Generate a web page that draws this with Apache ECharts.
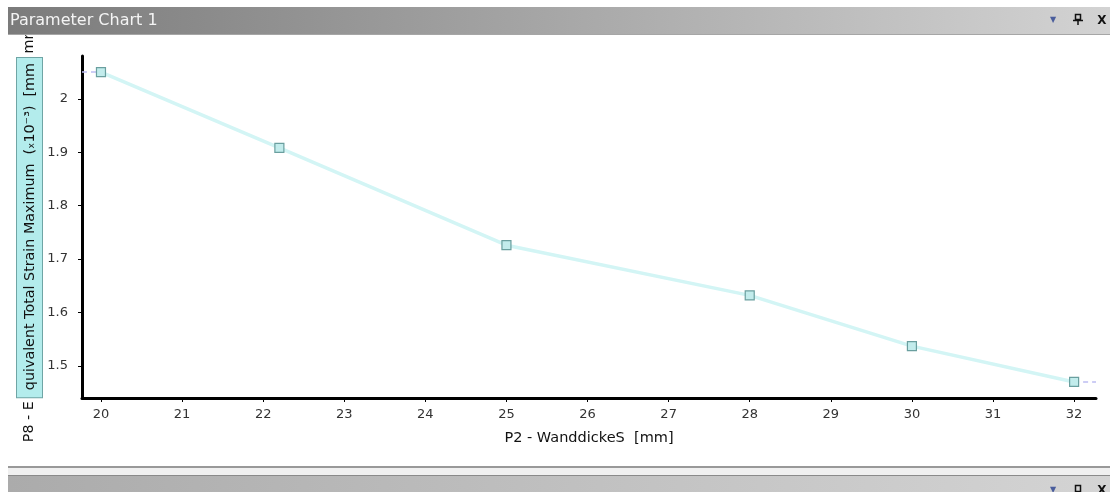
<!DOCTYPE html>
<html>
<head>
<meta charset="utf-8">
<style>
  html, body { margin: 0; padding: 0; background: #ffffff; }
  #chart { width: 1110px; height: 492px; }
</style>
<script src="https://cdn.jsdelivr.net/npm/echarts@6/dist/echarts.min.js"></script>
</head>
<body>
<div id="chart"></div>
<script>
// Wall thickness (input parameter P2) and resulting maximum equivalent total strain (P8, x10^-3)
const thickness = [20, 22.2, 25, 28, 30, 32];
const strain = [2.05, 1.908, 1.726, 1.632, 1.537, 1.470];

// Tick values shown on each axis
const xTicks = [20, 21, 22, 23, 24, 25, 26, 27, 28, 29, 30, 31, 32];
const yTicks = [1.5, 1.6, 1.7, 1.8, 1.9, 2];

// Axis extents
const xRange = [19.766, 32.27];
const yRange = [1.44, 2.08];

const FONT = 'DejaVu Sans';

// Short dashed lead-in / lead-out from the axis edges to the first and last points
const edgeDash = [
  [xRange[0], strain[0]], [thickness[0], strain[0]], '-',
  [thickness[thickness.length - 1], strain[strain.length - 1]], [xRange[1], strain[strain.length - 1]]
];

const chart = echarts.init(document.getElementById('chart'), null, { renderer: 'canvas' });

chart.setOption({
  animation: false,
  backgroundColor: '#ffffff',
  grid: { left: 82, right: 14, top: 56, bottom: 94, containLabel: false, outerBoundsMode: 'none' },
  xAxis: {
    type: 'value',
    min: xRange[0],
    max: xRange[1],
    name: 'P2 - WanddickeS  [mm]',
    nameLocation: 'middle',
    nameGap: 33,
    nameTextStyle: { fontFamily: FONT, fontSize: 14.5, color: '#111' },
    axisLine: { show: true, onZero: false, lineStyle: { color: '#000', width: 3 } },
    axisTick: { show: true, customValues: xTicks, length: 4, lineStyle: { color: '#000', width: 1 } },
    axisLabel: { customValues: xTicks, margin: 10, fontFamily: FONT, fontSize: 13, color: '#333' },
    splitLine: { show: false }
  },
  yAxis: {
    type: 'value',
    min: yRange[0],
    max: yRange[1],
    // part of the axis title sits in a highlighted box
    name: '{p0|P8 - E}{hl|quivalent Total Strain Maximum  (ₓ10⁻³)  [mm}{p| mm^-1]}',
    nameLocation: 'middle',
    nameRotate: 90,
    nameGap: 40,
    nameMoveOverlap: false,
    nameTextStyle: {
      fontFamily: FONT, fontSize: 14.3, color: '#111',
      padding: [0, 0, 0, 18],
      rich: {
        p0: { fontFamily: FONT, fontSize: 14.3, color: '#111', padding: [0, 4, 0, 0] },
        p: { fontFamily: FONT, fontSize: 14.3, color: '#111' },
        hl: {
          fontFamily: FONT, fontSize: 14.3, color: '#111',
          backgroundColor: '#b3ecec', borderColor: '#6fa5a5', borderWidth: 1,
          padding: [6, 5, 5, 7]
        }
      }
    },
    axisLine: { show: true, onZero: false, lineStyle: { color: '#000', width: 3 } },
    axisTick: { show: true, customValues: yTicks, length: 4, lineStyle: { color: '#000', width: 1 } },
    axisLabel: { customValues: yTicks, margin: 14, fontFamily: FONT, fontSize: 13, color: '#333' },
    splitLine: { show: false }
  },
  series: [
    {
      type: 'line',
      data: edgeDash,
      symbol: 'none',
      silent: true,
      lineStyle: { color: '#bdbdf2', width: 1.5, type: [5, 4] },
      z: 1
    },
    {
      type: 'line',
      data: thickness.map((t, i) => [t, strain[i]]),
      symbol: 'rect',
      symbolSize: 9,
      lineStyle: { color: '#d3f5f5', width: 3.5 },
      itemStyle: { color: '#c2ecec', borderColor: '#6a9f9f', borderWidth: 1.2 },
      z: 3
    }
  ],
  graphic: [
    // white strip above the panel header
    { type: 'rect', shape: { x: 0, y: 0, width: 1110, height: 7 }, style: { fill: '#ffffff' }, z: 100 },
    // panel header
    {
      type: 'rect', shape: { x: 8, y: 7, width: 1102, height: 28 }, z: 100,
      style: { fill: new echarts.graphic.LinearGradient(0, 0, 1, 0, [
        { offset: 0, color: '#7b7b7b' }, { offset: 1, color: '#d3d3d3' }
      ]) }
    },
    { type: 'rect', shape: { x: 8, y: 34, width: 1102, height: 1 }, style: { fill: '#a6a6a6' }, z: 101 },
    {
      type: 'text', x: 10, y: 21, z: 102,
      style: { text: 'Parameter Chart 1', fontFamily: FONT, fontSize: 16, fill: '#f4f4f4', verticalAlign: 'middle' }
    },
    { type: 'text', x: 1053, y: 20, z: 102, style: { text: '▼', fontFamily: FONT, fontSize: 8, fill: '#4a5d9c', align: 'center', verticalAlign: 'middle' } },
    // pin icon
    { type: 'rect', shape: { x: 1075.5, y: 14.5, width: 5, height: 5 }, style: { fill: 'none', stroke: '#111', lineWidth: 1.5 }, z: 102 },
    { type: 'line', shape: { x1: 1073, y1: 20.5, x2: 1083, y2: 20.5 }, style: { stroke: '#111', lineWidth: 1.5 }, z: 102 },
    { type: 'line', shape: { x1: 1078, y1: 20.5, x2: 1078, y2: 25 }, style: { stroke: '#111', lineWidth: 1.5 }, z: 102 },
    { type: 'text', x: 1102, y: 20.5, z: 102, style: { text: 'X', fontFamily: FONT, fontSize: 12, fontWeight: 'bold', fill: '#111', align: 'center', verticalAlign: 'middle' } },
    // lower panel separator and next panel header
    { type: 'rect', shape: { x: 8, y: 466, width: 1102, height: 2 }, style: { fill: '#999999' }, z: 100 },
    { type: 'rect', shape: { x: 8, y: 468, width: 1102, height: 7 }, style: { fill: '#f0f0f0' }, z: 100 },
    { type: 'rect', shape: { x: 8, y: 475, width: 1102, height: 1.5 }, style: { fill: '#8a8a8a' }, z: 100 },
    {
      type: 'rect', shape: { x: 8, y: 476, width: 1102, height: 16 }, z: 100,
      style: { fill: new echarts.graphic.LinearGradient(0, 0, 1, 0, [
        { offset: 0, color: '#ababab' }, { offset: 1, color: '#d4d4d4' }
      ]) }
    },
    { type: 'text', x: 1053, y: 490, z: 102, style: { text: '▼', fontFamily: FONT, fontSize: 8, fill: '#4a5d9c', align: 'center', verticalAlign: 'middle' } },
    { type: 'rect', shape: { x: 1075.5, y: 485.5, width: 5, height: 6 }, style: { fill: 'none', stroke: '#111', lineWidth: 1.5 }, z: 102 },
    { type: 'text', x: 1102, y: 491, z: 102, style: { text: 'X', fontFamily: FONT, fontSize: 12, fontWeight: 'bold', fill: '#111', align: 'center', verticalAlign: 'middle' } }
  ]
});
</script>
</body>
</html>
